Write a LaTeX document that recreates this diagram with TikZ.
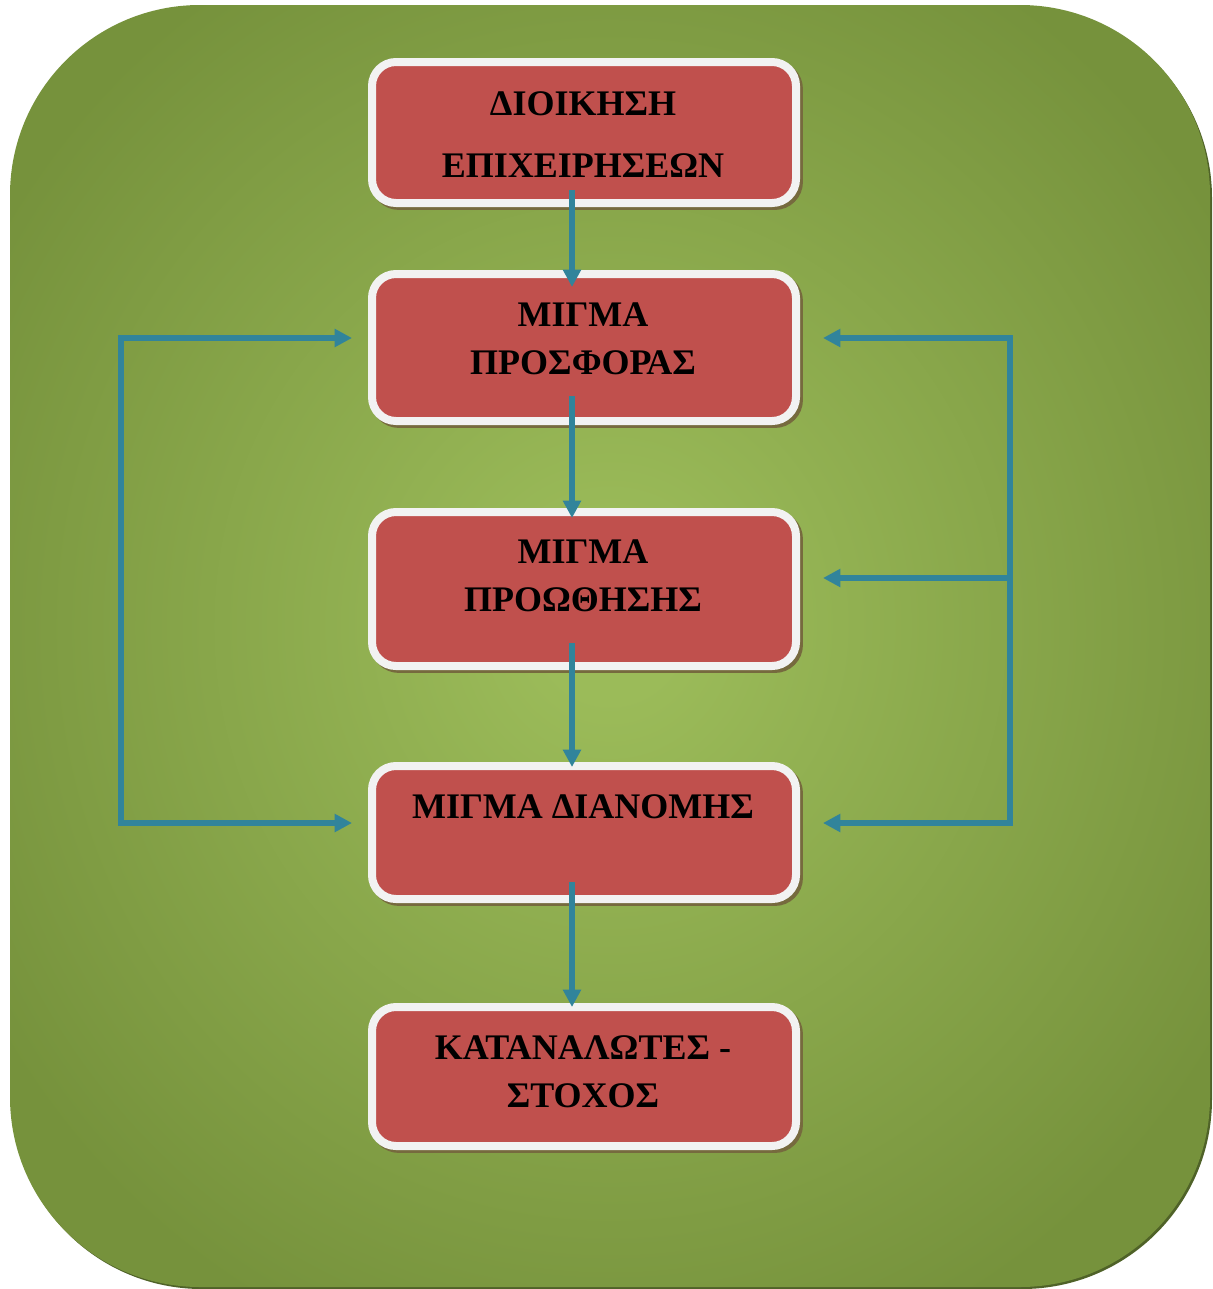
\documentclass[tikz,border=0pt]{standalone}
\usepackage{fontspec}
\setmainfont{Liberation Serif}
\usetikzlibrary{arrows.meta,calc,shadows}

\definecolor{bglight}{HTML}{9BBB59}
\definecolor{bgdark}{HTML}{76923C}
\definecolor{bgshadow}{HTML}{4F6228}
\definecolor{boxred}{HTML}{C0504D}
\definecolor{boxrim}{HTML}{F2F2F2}
\definecolor{boxshadow}{HTML}{766A3E}
\definecolor{flow}{HTML}{31849B}

% soft glow for the panel: light centre, darker rim
\pgfdeclareradialshading{panelglow}{\pgfpoint{0bp}{1bp}}{%
  color(0bp)=(bglight); color(3bp)=(bglight); color(30bp)=(bgdark);
  color(72bp)=(bgdark!94!black)}

\tikzset{
  stepbox/.style={rectangle, rounded corners=18pt, fill=boxred, draw=boxrim,
    line width=6pt, minimum width=318pt, outer sep=0pt, inner sep=0pt,
    drop shadow={shadow xshift=2.2pt, shadow yshift=-2.2pt, fill=boxshadow,
      draw=boxshadow, opacity=1}},
  boxtext/.style={font=\bfseries\fontsize{27}{36}\selectfont, align=center,
    anchor=base, inner sep=0pt},
  flowline/.style={draw=flow, line width=4.5pt, line cap=rect},
  flowarrow/.style={draw=flow, line width=4.5pt,
    -{Triangle[width=13pt,length=13pt]}},
}

\begin{document}
\begin{tikzpicture}[x=0.75pt,y=-0.75pt]
  \useasboundingbox (0,0) rectangle (1213,1289);

  % background panel with its shadow
  \path[fill=bgshadow, rounded corners=142.5pt] (12,8) rectangle (1212,1289);
  \shade[shading=panelglow, rounded corners=142.5pt] (10,5) rectangle (1210,1287);

  % the five steps
  \node[stepbox, minimum height=105.75pt] (b1) at (584,132.5) {};
  \node[stepbox, minimum height=110.25pt] (b2) at (584,347.5) {};
  \node[stepbox, minimum height=115.5pt]  (b3) at (584,589) {};
  \node[stepbox, minimum height=99.75pt]  (b4) at (584,832.5) {};
  \node[stepbox, minimum height=104.25pt] (b5) at (584,1076.5) {};

  % labels (anchored on the baseline of their last line)
  \node[boxtext] (t1) at (583,177) {ΔΙΟΙΚΗΣΗ\\[10.5pt]ΕΠΙΧΕΙΡΗΣΕΩΝ};
  \node[boxtext] (t2) at (583,374) {ΜΙΓΜΑ\\[0pt]ΠΡΟΣΦΟΡΑΣ};
  \node[boxtext] (t3) at (583,611) {ΜΙΓΜΑ\\[-0.5pt]ΠΡΟΩΘΗΣΗΣ};
  \node[boxtext] (t4) at (583,818) {ΜΙΓΜΑ ΔΙΑΝΟΜΗΣ};
  \node[boxtext] (t5) at (583,1107) {ΚΑΤΑΝΑΛΩΤΕΣ -\\[0pt]ΣΤΟΧΟΣ};

  % main flow
  \draw[flowarrow] ($(b1.south)+(-12,-13)$) -- ($(b2.north)+(-12,13)$);
  \draw[flowarrow] ($(b2.south)+(-12,-25)$) -- ($(b3.north)+(-12,6)$);
  \draw[flowarrow] ($(b3.south)+(-12,-23)$) -- ($(b4.north)+(-12,1)$);
  \draw[flowarrow] ($(b4.south)+(-12,-17)$) -- ($(b5.north)+(-12,0)$);

  % left feedback bracket
  \coordinate (LT) at (121,338);
  \coordinate (LB) at (121,823);
  \draw[flowline] (LT) -- (LB);
  \draw[flowarrow] (LT) -- ($(b2.west)+(-20,-9.5)$);
  \draw[flowarrow] (LB) -- ($(b4.west)+(-20,-9.5)$);

  % right feedback bracket
  \coordinate (RT) at (1010,338);
  \coordinate (RM) at (1010,578);
  \coordinate (RB) at (1010,823);
  \draw[flowline] (RT) -- (RB);
  \draw[flowarrow] (RT) -- ($(b2.east)+(27,-9.5)$);
  \draw[flowarrow] (RM) -- ($(b3.east)+(27,-11)$);
  \draw[flowarrow] (RB) -- ($(b4.east)+(27,-9.5)$);
\end{tikzpicture}
\end{document}
